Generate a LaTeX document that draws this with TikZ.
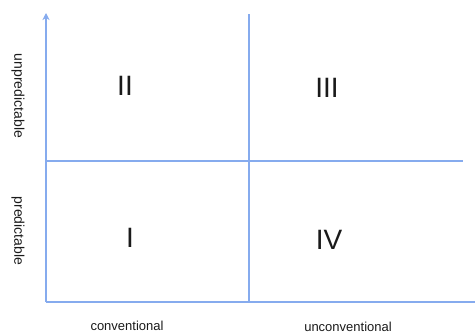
\documentclass[tikz,border=0pt]{standalone}
\usepackage{fontspec}
\setmainfont{Liberation Sans}
\usepackage{xcolor}
\usetikzlibrary{arrows.meta,calc,positioning}
\definecolor{gridblue}{HTML}{86ABEE}
\definecolor{textgray}{HTML}{1A1A1A}
\tikzset{
  axisline/.style={gridblue, line width=1.3pt},
  axisarrow/.style={gridblue, -{Stealth[length=7pt,width=7pt,inset=2pt]}, line width=1.3pt},
  quadlabel/.style={text=textgray, font=\fontsize{28}{30}\selectfont, inner sep=0pt},
  sidelabel/.style={text=textgray, font=\fontsize{14}{16}\selectfont, rotate=-90, inner sep=0pt},
  baselabel/.style={text=textgray, font=\fontsize{13}{15}\selectfont, inner sep=0pt}
}
\begin{document}
\begin{tikzpicture}[x=1pt,y=-1pt]
  \useasboundingbox (0,0) rectangle (476,334);
  \coordinate (origin) at (46,302);
  \coordinate (ytop) at (46,13);
  \coordinate (xend) at (475,302);
  \coordinate (midtop) at (249,14);
  \coordinate (midbot) at (249,302);
  \coordinate (midleft) at (46,161);
  \coordinate (midright) at (463,161);
  \draw[axisarrow] (origin) -- (ytop);
  \draw[axisline] (origin) -- (xend);
  \draw[axisline] (midbot) -- (midtop);
  \draw[axisline] (midleft) -- (midright);
  \node[quadlabel] (q2) at (125,86) {II};
  \node[quadlabel] (q3) at (327,88) {III};
  \node[quadlabel] (q1) at (130,238) {I};
  \node[quadlabel] (q4) at (329,240) {IV};
  \node[sidelabel] (unpred) at (18,96) {unpredictable};
  \node[sidelabel] (pred) at (18,231) {predictable};
  \node[baselabel] (conv) at (127,326) {conventional};
  \node[baselabel] (unconv) at (348,327) {unconventional};
\end{tikzpicture}
\end{document}
